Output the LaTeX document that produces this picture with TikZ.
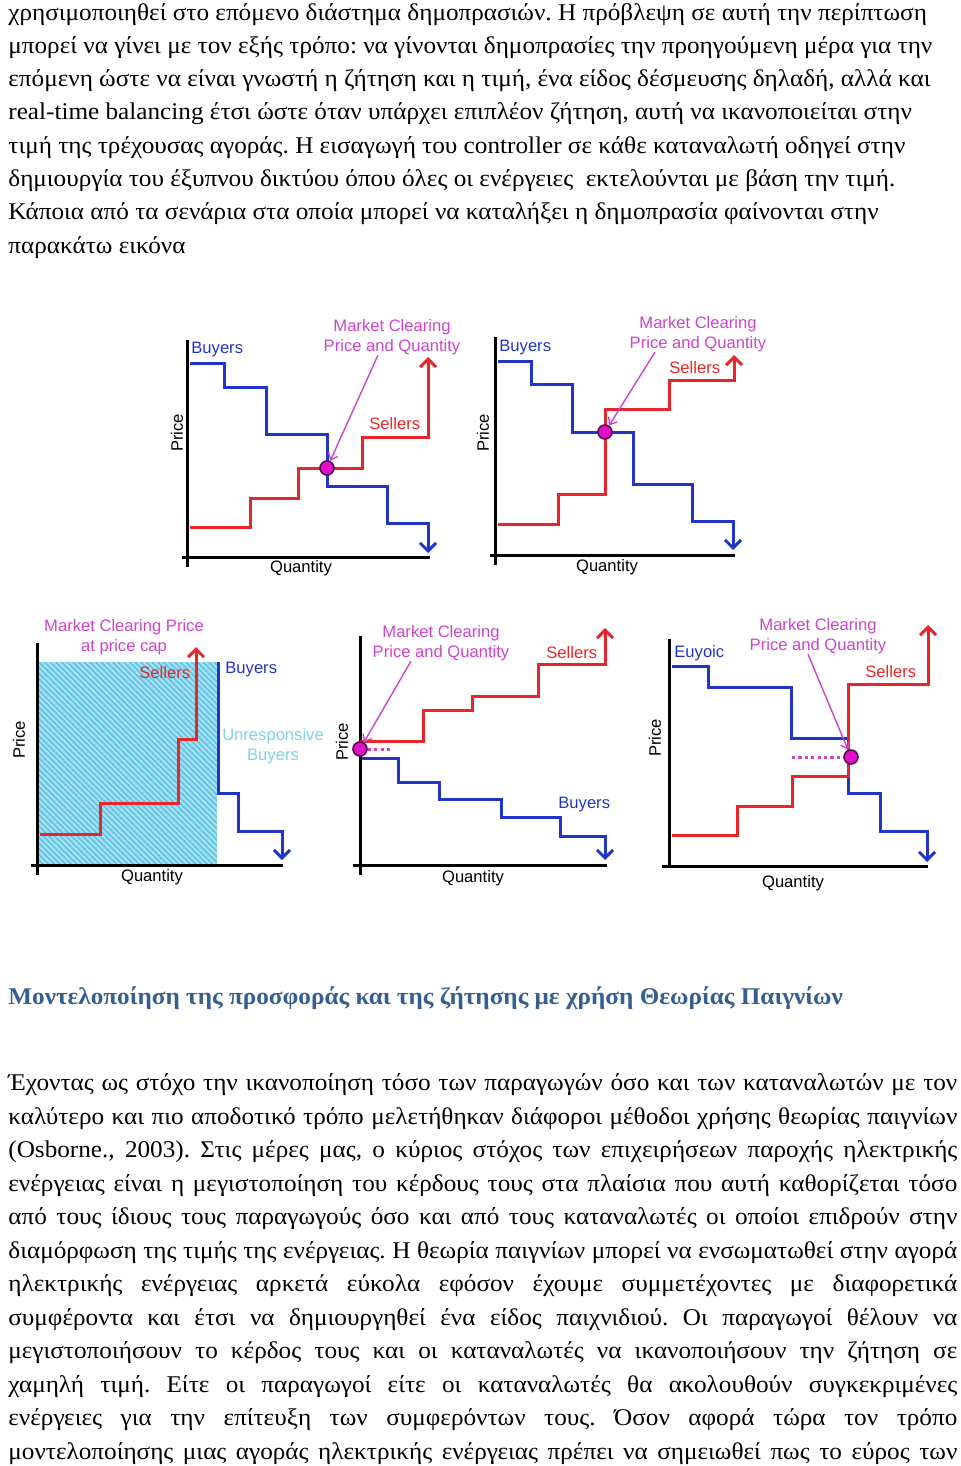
\documentclass[tikz,border=0pt]{standalone}
\usepackage{fontspec}
\setmainfont{Liberation Serif}[FakeStretch=1.05]
\newfontfamily\chartfont{Liberation Sans}
\usetikzlibrary{arrows.meta,patterns.meta}
\frenchspacing

\definecolor{buyblue}{HTML}{2035C8}
\definecolor{sellred}{HTML}{E8262A}
\definecolor{mcpink}{HTML}{CC44CC}
\definecolor{dotfill}{HTML}{E010C8}
\definecolor{dotline}{HTML}{501050}
\definecolor{unresp}{HTML}{7FD0E8}
\definecolor{hatchbg}{HTML}{A8E0F0}
\definecolor{hatchln}{HTML}{5CC4E6}
\definecolor{headblue}{HTML}{365F91}

\newcommand{\jline}[1]{\makebox[474.5pt][s]{#1}}

\begin{document}
\begin{tikzpicture}[x=0.5pt, y=-0.5pt, line join=miter,
    body/.style={anchor=base west, inner sep=0pt, font=\fontsize{12}{14}\selectfont},
    head/.style={anchor=base west, inner sep=0pt, text=headblue, font=\fontsize{12}{14}\selectfont\bfseries},
    lbl/.style={inner sep=0pt, font=\chartfont\fontsize{8.3}{10}\selectfont},
    axis/.style={line width=1.5pt, black},
    buy/.style={line width=1.5pt, buyblue, -{Straight Barb[length=4pt,width=8pt]}},
    sell/.style={line width=1.5pt, sellred, -{Straight Barb[length=4pt,width=8pt]}},
    dot/.style={circle, inner sep=0pt, minimum size=7pt, fill=dotfill, draw=dotline, line width=0.8pt},
    note/.style={mcpink, line width=0.7pt, -{Straight Barb[length=3pt,width=5pt]}},
    dots/.style={mcpink, line width=1.5pt, dash pattern=on 1.6pt off 1.6pt}]

    \useasboundingbox (0,0) rectangle (960,1466);

    % text above the figure
    \node[body] (up1) at (8,21) {χρησιμοποιηθεί στο επόμενο διάστημα δημοπρασιών. Η πρόβλεψη σε αυτή την περίπτωση};
    \node[body] (up2) at (8,54) {μπορεί να γίνει με τον εξής τρόπο: να γίνονται δημοπρασίες την προηγούμενη μέρα για την};
    \node[body] (up3) at (8,87) {επόμενη ώστε να είναι γνωστή η ζήτηση και η τιμή, ένα είδος δέσμευσης δηλαδή, αλλά και};
    \node[body] (up4) at (8,120) {real-time balancing έτσι ώστε όταν υπάρχει επιπλέον ζήτηση, αυτή να ικανοποιείται στην};
    \node[body] (up5) at (8,154) {τιμή της τρέχουσας αγοράς. Η εισαγωγή του controller σε κάθε καταναλωτή οδηγεί στην};
    \node[body] (up6) at (8,187) {δημιουργία του έξυπνου δικτύου όπου όλες οι ενέργειες\ \ εκτελούνται με βάση την τιμή.};
    \node[body] (up7) at (8,220) {Κάποια από τα σενάρια στα οποία μπορεί να καταλήξει η δημοπρασία φαίνονται στην};
    \node[body] (up8) at (8,254) {παρακάτω εικόνα};

    % chart 1
    \draw[axis] (182,557) -- (430,557);
    \draw[axis] (187,340) -- (187,567);
    \draw[buy] (190,363) -| (224,387) -| (266,434) -| (327,486) -| (387,523) -| (428,553);
    \draw[sell] (190,527) -| (250,498) -| (298,468) -| (362,437) -| (428,357);
    \node[dot] (dot1) at (327,468) {};
    \node[lbl, text=buyblue, anchor=west] (buy1) at (191,350) {Buyers};
    \node[lbl, text=sellred, anchor=west] (sell1) at (369,424) {Sellers};
    \node[lbl, text=mcpink, align=center] (mcp1) at (392,337) {Market Clearing\\Price and Quantity};
    \node[lbl, rotate=90] (price1) at (177,433) {Price};
    \node[lbl] (qty1) at (301,568) {Quantity};
    \draw[note] ([xshift=-7pt]mcp1.south) -- (dot1);

    % chart 2
    \draw[axis] (490,555) -- (735,555);
    \draw[axis] (495,337) -- (495,565);
    \draw[buy] (498,361) -| (531,384) -| (572,432) -| (633,484) -| (692,521) -| (733,550);
    \draw[sell] (498,524) -| (558,494) -| (605,409) -| (669,380) -| (734,355);
    \node[dot] (dot2) at (605,432) {};
    \node[lbl, text=buyblue, anchor=west] (buy2) at (499,348) {Buyers};
    \node[lbl, text=sellred, anchor=west] (sell2) at (669,368) {Sellers};
    \node[lbl, text=mcpink, align=center] (mcp2) at (698,334) {Market Clearing\\Price and Quantity};
    \node[lbl, rotate=90] (price2) at (483,433) {Price};
    \node[lbl] (qty2) at (607,567) {Quantity};
    \draw[note] ([xshift=-21.5pt]mcp2.south) -- (dot2);

    % chart 3
    \fill[hatchbg] (37,662) rectangle (217,865);
    \fill[pattern={Lines[angle=-45,distance=2pt,line width=0.8pt]}, pattern color=hatchln] (37,662) rectangle (217,865);
    \draw[axis] (31,865) -- (283,865);
    \draw[axis] (37,643) -- (37,875);
    \draw[sell] (40,834) -| (100,803) -| (178,739) -| (196,647);
    \draw[buy] (218,662) |- (238,793) |- (282,831) -- (282,860);
    \node[lbl, text=mcpink, align=center] (mcp3) at (124,637) {Market Clearing Price\\at price cap};
    \node[lbl, text=sellred, anchor=west] (sell3) at (139,673) {Sellers};
    \node[lbl, text=buyblue, anchor=west] (buy3) at (225,670) {Buyers};
    \node[lbl, text=unresp, align=center] (unr3) at (273,746) {Unresponsive\\Buyers};
    \node[lbl, rotate=90] (price3) at (19,740) {Price};
    \node[lbl] (qty3) at (152,877) {Quantity};

    % chart 4
    \draw[axis] (353,865) -- (607,865);
    \draw[axis] (360,636) -- (360,875);
    \draw[sell] (360,741) -| (423,710) -| (472,696) -| (538,664) -| (605,628);
    \draw[buy] (362,758) -| (398,782) -| (439,799) -| (501,817) -| (560,836) -| (605,860);
    \node[dot] (dot4) at (360,749) {};
    \coordinate (end4) at (393,749);
    \draw[dots] (dot4) -- (end4);
    \node[lbl, text=mcpink, align=center] (mcp4) at (441,643) {Market Clearing\\Price and Quantity};
    \node[lbl, text=sellred, anchor=west] (sell4) at (546,653) {Sellers};
    \node[lbl, text=buyblue, anchor=west] (buy4) at (558,805) {Buyers};
    \node[lbl, rotate=90] (price4) at (342,742) {Price};
    \node[lbl] (qty4) at (473,878) {Quantity};
    \draw[note] ([xshift=-15pt]mcp4.south) -- (dot4);

    % chart 5
    \draw[axis] (662,866) -- (928,866);
    \draw[axis] (669,639) -- (669,867);
    \draw[buy] (672,666) -| (708,687) -| (791,738) -| (848,793) -| (880,831) -| (927,862);
    \draw[sell] (672,835) -| (737,806) -| (792,776) -| (848,684) -| (928,625);
    \node[dot] (dot5) at (851,757) {};
    \coordinate (end5) at (792,757);
    \draw[dots] (end5) -- (dot5);
    \node[lbl, text=mcpink, align=center] (mcp5) at (818,636) {Market Clearing\\Price and Quantity};
    \node[lbl, text=buyblue, anchor=west] (buy5) at (674,653) {Euyoic};
    \node[lbl, text=sellred, anchor=west] (sell5) at (865,672) {Sellers};
    \node[lbl, rotate=90] (price5) at (655,738) {Price};
    \node[lbl] (qty5) at (793,883) {Quantity};
    \draw[note] ([xshift=-5pt]mcp5.south) -- (dot5);

    % heading
    \node[head] (hd) at (8,1004) {Μοντελοποίηση της προσφοράς και της ζήτησης με χρήση Θεωρίας Παιγνίων};

    % text below the heading
    \node[body] (lo1) at (8,1090) {\jline{Έχοντας ως στόχο την ικανοποίηση τόσο των παραγωγών όσο και των καταναλωτών με τον}};
    \node[body] (lo2) at (8,1124) {\jline{καλύτερο και πιο αποδοτικό τρόπο μελετήθηκαν διάφοροι μέθοδοι χρήσης θεωρίας παιγνίων}};
    \node[body] (lo3) at (8,1157) {\jline{(Osborne., 2003). Στις μέρες μας, ο κύριος στόχος των επιχειρήσεων παροχής ηλεκτρικής}};
    \node[body] (lo4) at (8,1191) {\jline{ενέργειας είναι η μεγιστοποίηση του κέρδους τους στα πλαίσια που αυτή καθορίζεται τόσο}};
    \node[body] (lo5) at (8,1224) {\jline{από τους ίδιους τους παραγωγούς όσο και από τους καταναλωτές οι οποίοι επιδρούν στην}};
    \node[body] (lo6) at (8,1258) {\jline{διαμόρφωση της τιμής της ενέργειας. Η θεωρία παιγνίων μπορεί να ενσωματωθεί στην αγορά}};
    \node[body] (lo7) at (8,1291) {\jline{ηλεκτρικής ενέργειας αρκετά εύκολα εφόσον έχουμε συμμετέχοντες με διαφορετικά}};
    \node[body] (lo8) at (8,1325) {\jline{συμφέροντα και έτσι να δημιουργηθεί ένα είδος παιχνιδιού. Οι παραγωγοί θέλουν να}};
    \node[body] (lo9) at (8,1358) {\jline{μεγιστοποιήσουν το κέρδος τους και οι καταναλωτές να ικανοποιήσουν την ζήτηση σε}};
    \node[body] (lo10) at (8,1392) {\jline{χαμηλή τιμή. Είτε οι παραγωγοί είτε οι καταναλωτές θα ακολουθούν συγκεκριμένες}};
    \node[body] (lo11) at (8,1425) {\jline{ενέργειες για την επίτευξη των συμφερόντων τους. Όσον αφορά τώρα τον τρόπο}};
    \node[body] (lo12) at (8,1459) {\jline{μοντελοποίησης μιας αγοράς ηλεκτρικής ενέργειας πρέπει να σημειωθεί πως το εύρος των}};

\end{tikzpicture}
\end{document}
